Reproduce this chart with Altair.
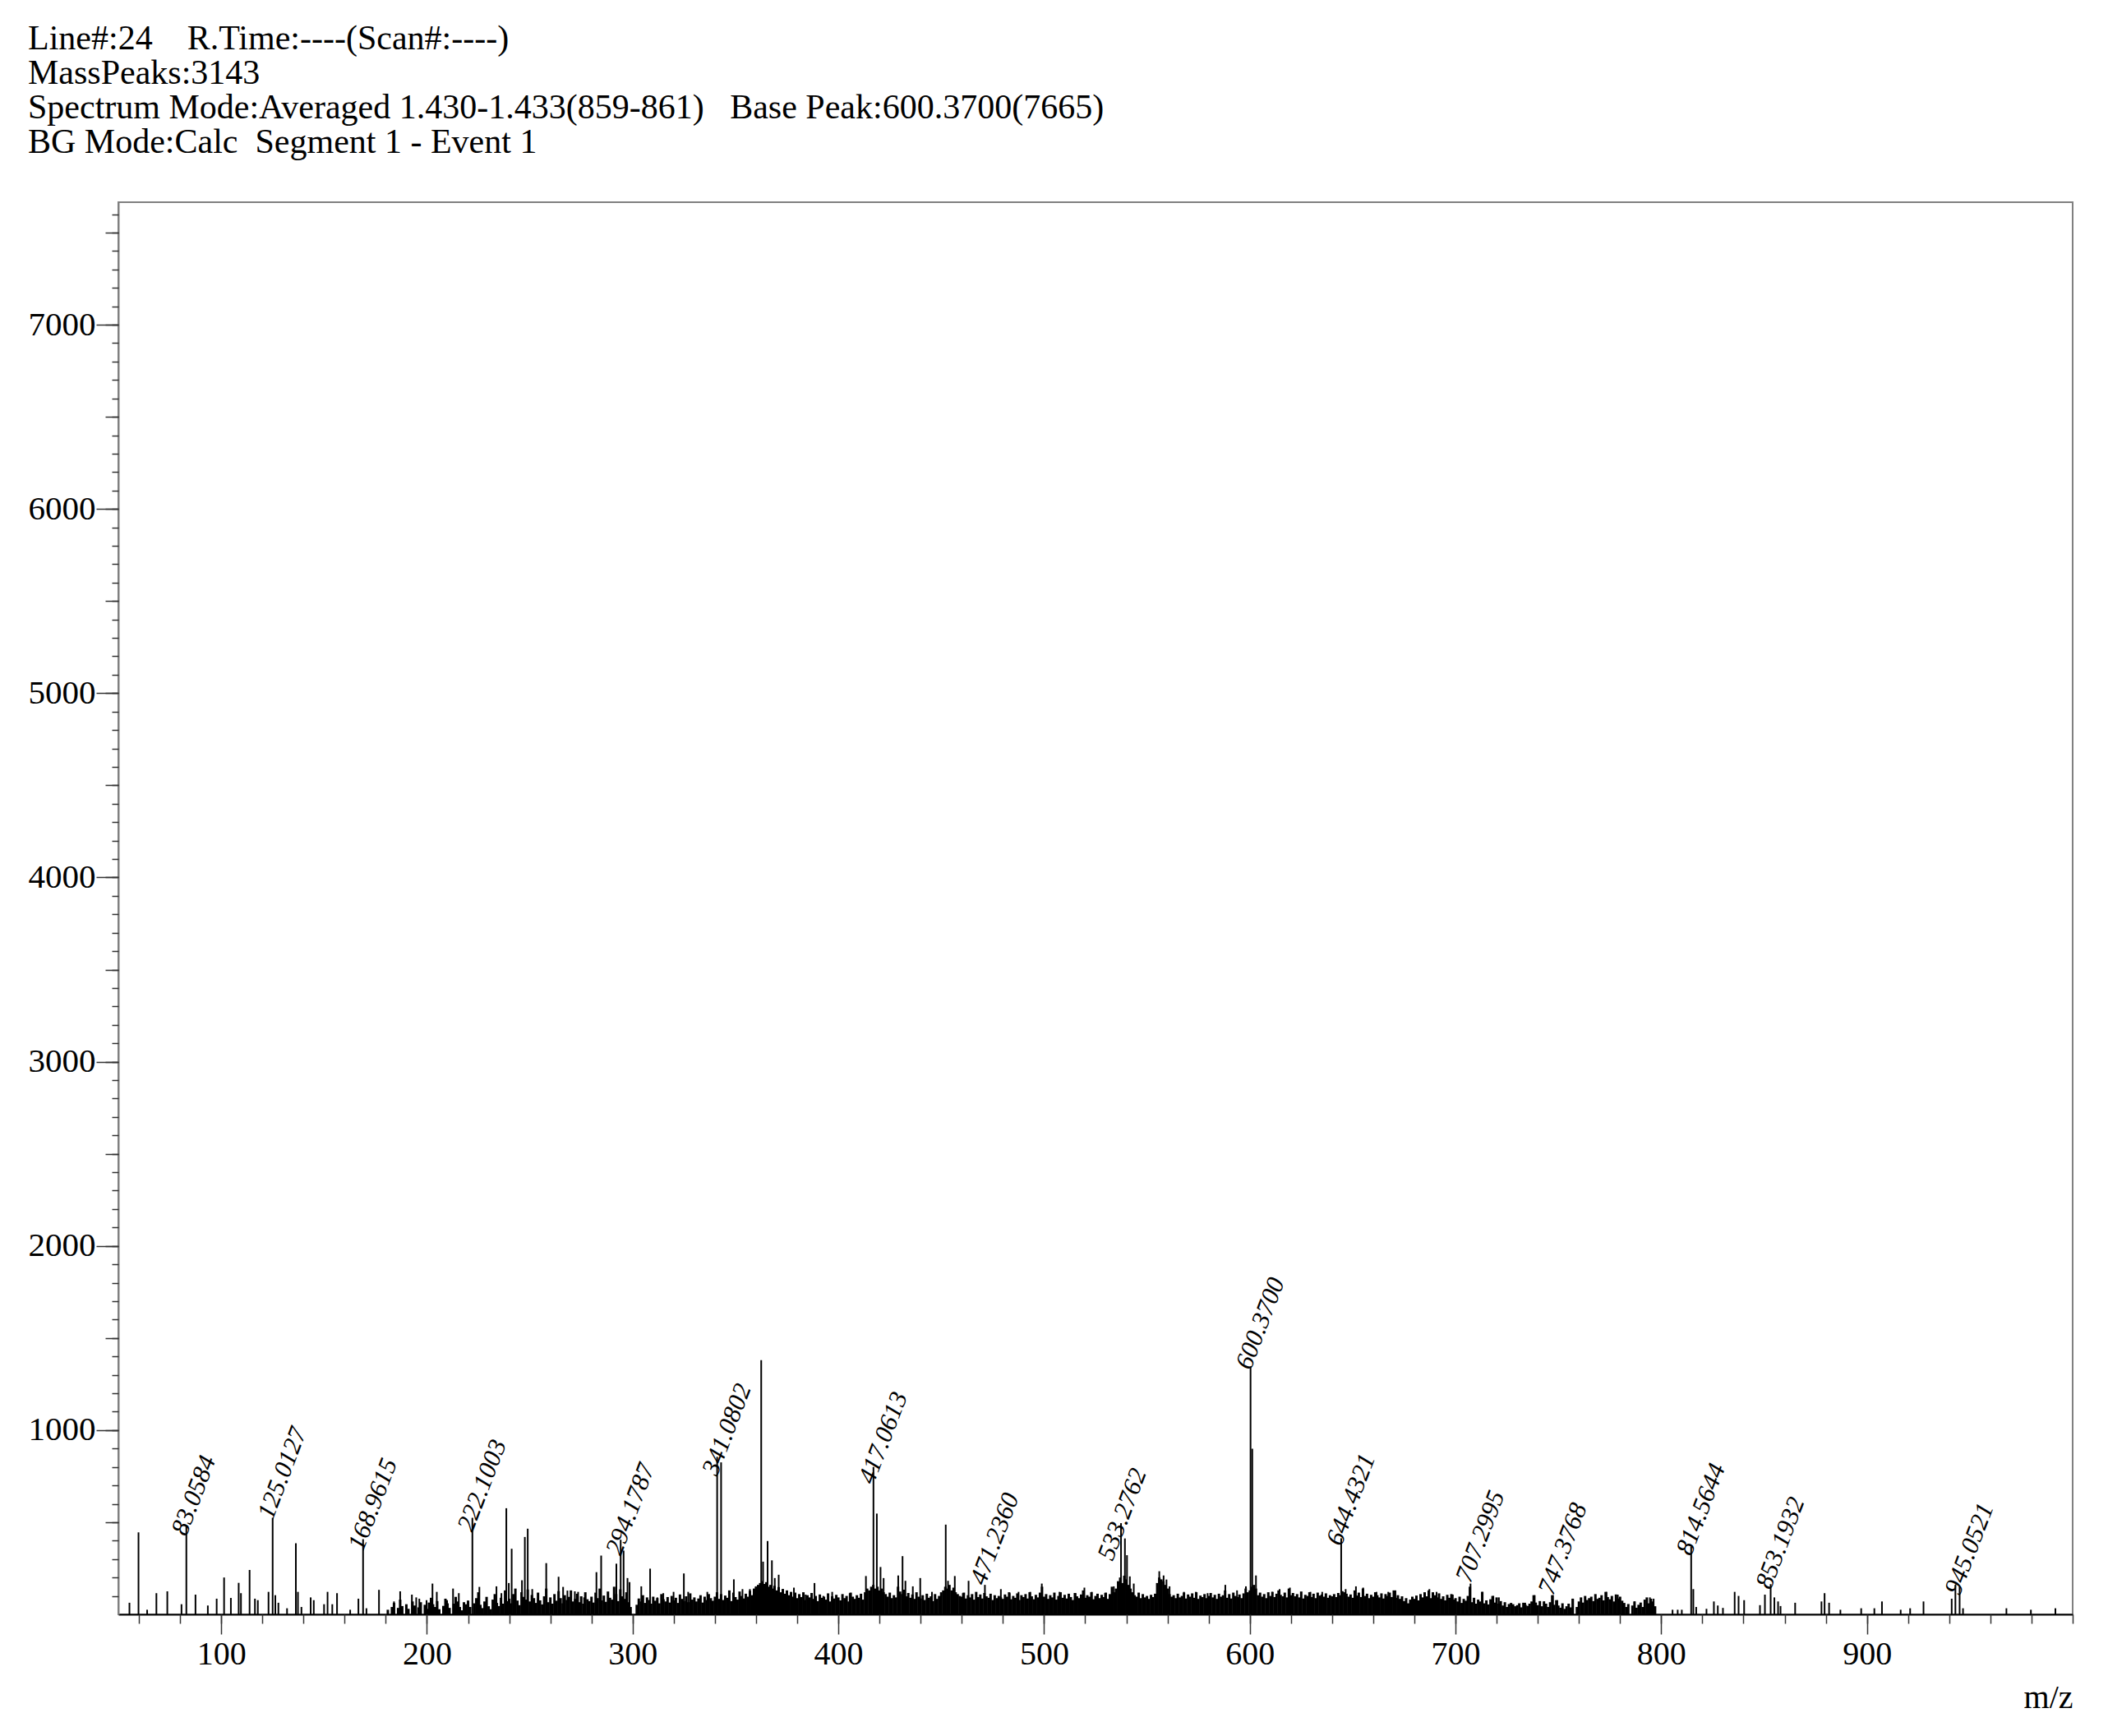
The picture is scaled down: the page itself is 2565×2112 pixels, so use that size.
import altair as alt
import pandas as pd

NB = "\u00a0"
# ---------------- header text ----------------
header_lines = [
    "Line#:24" + NB * 3 + " R.Time:----(Scan#:----)",
    "MassPeaks:3143",
    "Spectrum Mode:Averaged 1.430-1.433(859-861)" + NB * 2 + " Base Peak:600.3700(7665)",
    "BG Mode:Calc" + NB + " Segment 1 - Event 1",
]

# ---------------- axis ticks ----------------
x_major_ticks = [100, 200, 300, 400, 500, 600, 700, 800, 900]
y_major_ticks = [1000, 2000, 3000, 4000, 5000, 6000, 7000]
x_domain = [50, 1000]
y_domain = [0, 7665]

# ---------------- discrete peaks ----------------
peak_mz = [
    55.4, 59.8, 64.0, 68.5, 73.8, 80.7, 83.06, 87.5, 93.5, 97.8, 101.4, 104.7, 108.5, 109.6,
    113.8, 116.4, 117.8, 123.0, 125.01, 126.3, 127.8, 132.0, 136.3, 137.3, 139.0, 143.5, 145.0,
    150.0, 151.7, 154.0, 156.3, 162.7, 166.7, 168.96, 170.6, 176.7, 184.0, 187.0, 192.7, 194.8,
    196.3, 199.8, 202.7, 204.8, 209.8, 212.7, 215.5, 219.0, 222.10, 225.5, 229.0, 233.8, 236.2,
    238.6, 239.8, 241.2, 246.2, 247.6, 249.0, 251.2, 254.0, 258.0, 264.0, 266.2, 268.3, 271.9,
    273.5, 276.4, 282.4, 284.7, 292.1, 294.18, 295.6, 297.5, 298.5, 304.2, 308.5, 312.0, 314.9,
    319.9, 324.9, 327.0, 336.3, 341.08, 343.0, 349.2, 353.4, 357.0, 359.9, 362.5, 363.4, 365.6,
    367.7, 369.1, 371.0, 374.8, 378.4, 384.1, 388.4, 392.7, 397.0, 405.5, 413.4, 417.06, 418.7,
    420.5, 422.0, 429.1, 431.2, 432.6, 436.2, 439.8, 445.5, 452.2, 453.3, 456.6, 460.5, 463.3,
    471.24, 479.0, 483.3, 487.6, 493.3, 498.9, 507.5, 515.3, 519.6, 523.2, 529.6, 533.9, 537.4,
    539.3, 540.3, 541.7, 543.6, 556.0, 558.1, 559.5, 561.0, 568.0, 573.8, 579.5, 588.1, 593.8,
    598.1, 600.37, 601.2, 603.0, 610.9, 614.5, 619.5, 629.5, 635.2, 644.43, 646.6, 651.6, 655.1,
    661.6, 667.3, 670.8, 687.3, 690.8, 698.7, 707.30, 713.0, 718.4, 721.1, 733.9, 738.5, 743.1,
    747.38, 749.5, 756.9, 773.4, 778.9, 787.1, 794.5, 796.3,
    805.5, 808.0, 810.0, 814.56, 815.6, 817.0, 822.0, 825.6, 827.5, 830.0, 835.7, 837.6, 840.3,
    848.0, 850.4, 853.19, 855.0, 856.8, 858.0, 865.1, 877.9, 879.4, 881.6, 887.1, 897.2, 903.6,
    907.3, 916.4, 921.0, 927.5, 941.2, 943.0, 945.05, 946.7, 967.8, 979.7, 991.6,
]
peak_int = [
    63, 445, 25, 115, 125, 55, 480, 107, 48, 85, 200, 89, 171, 115,
    241, 85, 77, 122, 524, 104, 63, 33, 386, 122, 40, 92, 77,
    55, 122, 55, 115, 25, 85, 408, 33, 133, 70, 125, 107, 92,
    85, 77, 167, 122, 77, 140, 115, 55, 524, 149, 63, 152, 115,
    576, 170, 356, 185, 420, 465, 137, 85, 278, 204, 149, 129, 125,
    122, 92, 229, 319, 275, 405, 346, 197, 175, 152, 248, 92, 115,
    122, 222, 122, 122, 855, 825, 190, 137, 137, 152, 1380, 286, 398,
    293, 197, 215, 107, 145, 107, 170, 100, 122, 115, 208, 800, 547,
    257, 197, 211, 316, 182, 152, 197, 122, 487, 182, 208, 115, 182,
    160, 137, 115, 122, 122, 167, 122, 115, 145, 122, 115, 152, 495,
    412, 321, 206, 167, 234, 211, 189, 152, 122, 122, 115, 160, 130,
    152, 1345, 899, 211, 122, 137, 145, 122, 122, 413, 137, 152, 145,
    122, 122, 130, 137, 122, 107, 167, 122, 100, 92, 63, 104, 70,
    104, 77, 85, 122, 107, 70, 92, 85,
    25, 25, 25, 368, 137, 40, 30, 70, 48, 35, 122, 100, 77,
    50, 107, 164, 92, 70, 45, 63, 70, 115, 63, 25, 33, 33,
    70, 25, 33, 70, 85, 160, 152, 33, 33, 25, 33,
]

# ---------------- dense noise floor, one value per m/z unit from 180 ----------------
noise_start_mz = 180
noise_heights = [
    0, 25, 0, 40, 62, 0, 35, 80, 45, 0, 55, 30, 0, 70, 48, 0, 38, 66, 0, 52,
    30, 64, 90, 55, 40, 72, 28, 0, 46, 85, 60, 35, 0, 58, 95, 70, 40, 22, 66, 48,
    75, 40, 0, 60, 88, 120, 52, 34, 70, 95, 44, 28, 80, 110, 62, 45, 90, 58, 130, 72,
    85, 60, 110, 140, 75, 50, 120, 95, 80, 135, 70, 105, 88, 62, 118, 76, 54, 98, 140, 66,
    92, 58, 110, 74, 126, 88, 60, 104, 78, 95, 130, 70, 84, 112, 66, 98, 58, 120, 82, 72,
    96, 64, 118, 88, 140, 76, 102, 68, 124, 90, 80, 150, 110, 72, 136, 98, 84, 120, 66, 40,
    0, 0, 52, 86, 70, 104, 62, 92, 78, 58, 96, 74, 88, 60, 110, 82, 70, 94, 64, 100,
    76, 90, 62, 108, 84, 72, 98, 66, 114, 80, 92, 70, 86, 104, 64, 96, 78, 110, 88, 74,
    96, 120, 84, 110, 78, 102, 90, 130, 72, 118, 94, 80, 124, 100, 86, 112, 96, 128, 104, 140,
    150, 160, 170, 180, 165, 175, 150, 160, 140, 155, 130, 148, 120, 138, 112, 130, 104, 122, 96, 118,
    88, 110, 94, 120, 78, 104, 92, 116, 84, 100, 72, 108, 90, 96, 80, 114, 70, 98, 86, 106,
    92, 76, 110, 88, 100, 70, 118, 96, 84, 104, 90, 112, 80, 120, 140, 130, 150, 160, 140, 150,
    130, 140, 120, 110, 96, 118, 88, 104, 92, 150, 124, 110, 134, 98, 116, 90, 108, 84, 120, 96,
    86, 104, 78, 112, 90, 98, 72, 110, 84, 100, 120, 130, 150, 140, 160, 130, 145, 120, 110, 100,
    96, 118, 86, 104, 92, 110, 80, 122, 94, 108, 86, 116, 98, 90, 112, 78, 104, 88, 100, 92,
    84, 108, 96, 120, 82, 100, 90, 114, 78, 104, 94, 110, 86, 120, 98, 82, 106, 92, 118, 150,
    96, 110, 84, 104, 92, 118, 80, 100, 120, 90, 106, 86, 112, 94, 78, 116, 98, 88, 108, 130,
    90, 104, 96, 120, 82, 100, 112, 88, 106, 94, 118, 84, 110, 150, 120, 140, 180, 200, 170, 210,
    190, 160, 140, 120, 104, 96, 118, 88, 110, 92, 100, 84, 106, 94, 112, 170, 200, 190, 180, 160,
    140, 110, 96, 104, 88, 112, 92, 100, 118, 86, 108, 96, 114, 90, 120, 84, 102, 94, 110, 88,
    100, 116, 92, 106, 84, 112, 96, 104, 130, 90, 110, 86, 118, 100, 94, 108, 88, 114, 140, 120,
    130, 150, 160, 140, 104, 118, 96, 110, 88, 120, 100, 122, 94, 112, 130, 106, 98, 118, 92, 140,
    104, 116, 98, 110, 92, 124, 86, 106, 100, 120, 94, 112, 88, 118, 102, 108, 96, 114, 90, 104,
    98, 110, 94, 116, 104, 126, 120, 112, 96, 108, 90, 130, 102, 118, 94, 140, 100, 112, 88, 106,
    96, 120, 104, 92, 114, 86, 110, 100, 118, 94, 130, 90, 104, 84, 98, 72, 88, 60, 80, 96,
    84, 102, 76, 110, 92, 120, 98, 130, 88, 120, 104, 92, 114, 84, 98, 76, 106, 90, 110, 80,
    88, 70, 96, 62, 84, 74, 100, 150, 66, 90, 58, 80, 70, 122, 60, 76, 54, 82, 100, 64,
    92, 58, 72, 48, 66, 40, 56, 62, 55, 44, 50, 60, 38, 63, 52, 46, 58, 70, 104, 64,
    50, 72, 44, 70, 58, 40, 66, 104, 52, 77, 48, 36, 60, 30, 44, 58, 38, 85, 0, 40,
    70, 92, 64, 100, 78, 88, 96, 72, 110, 84, 90, 104, 76, 122, 94, 82, 100, 70, 108, 86,
    96, 74, 62, 40, 56, 0, 48, 70, 36, 52, 64, 40, 80, 92, 60, 85, 70, 44, 0, 0,
]

# ---------------- peak annotations ----------------
label_text = ["83.0584", "125.0127", "168.9615", "222.1003", "294.1787", "341.0802",
              "417.0613", "471.2360", "533.2762", "600.3700", "644.4321", "707.2995",
              "747.3768", "814.5644", "853.1932", "945.0521"]
label_mz = [83.06, 125.01, 168.96, 222.10, 294.18, 341.08, 417.06, 471.24, 533.28,
            600.37, 644.43, 707.30, 747.38, 814.56, 853.19, 945.05]
label_int = [420, 510, 340, 442, 313, 746, 701, 152, 286, 1322, 366, 165, 98, 313, 130, 98]

# ---------------- build tables ----------------
noise_df = pd.DataFrame({
    "mz": [noise_start_mz + i for i in range(len(noise_heights))],
    "intensity": noise_heights,
})
noise_df = noise_df[noise_df["intensity"] > 0]
peaks_df = pd.DataFrame({"mz": peak_mz, "intensity": peak_int})
labels_df = pd.DataFrame({"mz": label_mz, "intensity": label_int, "label": label_text})

SERIF = "Liberation Serif"
xs = alt.Scale(domain=x_domain, nice=False, zero=False)
ys = alt.Scale(domain=y_domain, nice=False, zero=True)

x_minor = list(range(60, 1001, 20))
y_mid = list(range(500, 7665, 500))
y_minor = list(range(100, 7665, 100))

noise = alt.Chart(noise_df).mark_rule(color="#000000", strokeWidth=3).encode(
    x=alt.X("mz:Q", scale=xs, axis=alt.Axis(
        orient="bottom", values=x_major_ticks, tickSize=24, tickColor="#333333", tickWidth=1.5,
        labelFont=SERIF, labelFontSize=40, labelColor="#000000", labelPadding=4, format="d",
        labelFlush=False, domain=True, domainColor="#000000", domainWidth=2, grid=False,
        title="m/z", titleFont=SERIF, titleFontSize=40, titleFontWeight="normal",
        titleColor="#000000", titleAnchor="end", titleAlign="right", titleBaseline="alphabetic",
        titleX=2378, titleY=113)),
    y=alt.Y("intensity:Q", scale=ys, axis=alt.Axis(
        orient="left", values=y_major_ticks, tickSize=27, tickColor="#333333", tickWidth=1.5,
        labelFont=SERIF, labelFontSize=41, labelColor="#000000", labelPadding=1, format="d",
        domain=True, domainColor="#808080", domainWidth=2, grid=False, title=None)),
    y2=alt.value(1718),
)

peaks = alt.Chart(peaks_df).mark_rule(color="#000000", strokeWidth=2).encode(
    x=alt.X("mz:Q", scale=xs, axis=alt.Axis(
        orient="bottom", values=x_minor, tickSize=11, tickColor="#333333", tickWidth=1.5,
        labels=False, domain=False, grid=False, title=None)),
    y=alt.Y("intensity:Q", scale=ys, axis=alt.Axis(
        orient="left", values=y_mid, tickSize=16, tickColor="#333333", tickWidth=1.5,
        labels=False, domain=False, grid=False, title=None)),
    y2=alt.value(1718),
)

labels = alt.Chart(labels_df).mark_text(
    angle=291, align="left", baseline="alphabetic", font=SERIF, fontStyle="italic",
    fontSize=31, color="#000000", dx=0, dy=0,
).encode(
    x=alt.X("mz:Q", scale=xs, axis=None),
    y=alt.Y("intensity:Q", scale=ys, axis=alt.Axis(
        orient="left", values=y_minor, tickSize=8, tickColor="#333333", tickWidth=1.5,
        labels=False, domain=False, grid=False, title=None)),
    text="label:N",
)

chart = alt.layer(noise, peaks, labels).resolve_axis(
    x="independent", y="independent"
).properties(
    width=2378,
    height=1718,
    autosize=alt.AutoSizeParams(type="none"),
    padding={"left": 136, "top": 238, "right": 35, "bottom": 140},
    background="#ffffff",
    title=alt.TitleParams(
        text=header_lines, anchor="start", frame="group", dx=-110, offset=18,
        font=SERIF, fontSize=42, fontWeight="normal", lineHeight=42, color="#000000",
        baseline="alphabetic",
    ),
).configure_view(stroke="#808080", strokeWidth=2)

chart.save("out.html", embed_options={"renderer": "svg", "actions": False})
